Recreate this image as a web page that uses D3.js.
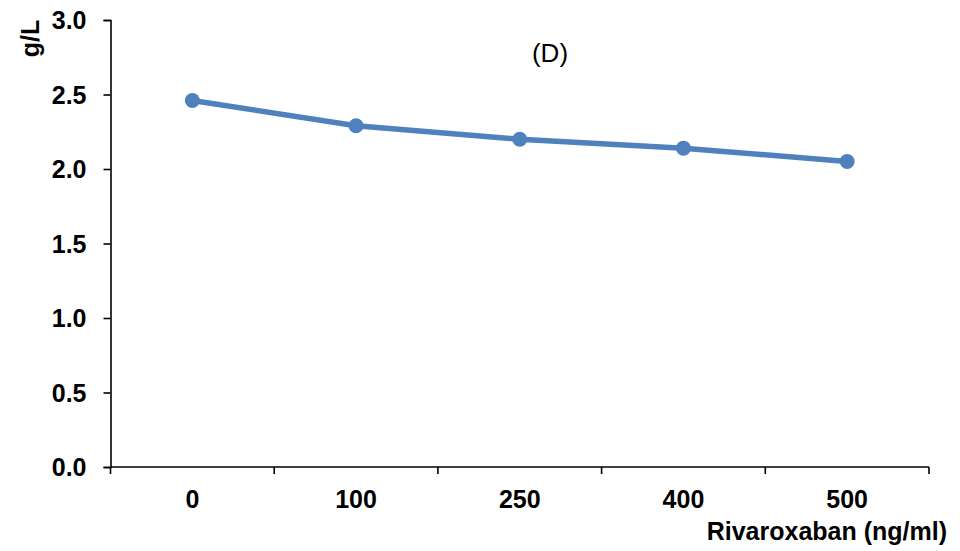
<!DOCTYPE html>
<html>
<head>
<meta charset="utf-8">
<script src="https://cdn.jsdelivr.net/npm/d3@7"></script>
<style>
  html, body { margin: 0; padding: 0; background: #fff; }
  svg { display: block; }
  text { font-family: "Liberation Sans", Arial, sans-serif; fill: #000; }
</style>
</head>
<body>
<svg id="chart" width="960" height="551"></svg>
<script>
// Rivaroxaban concentrations (ng/ml) and measured level (g/L)
const doses = ["0", "100", "250", "400", "500"];
const levels = [2.46, 2.29, 2.20, 2.14, 2.05];
const yTicks = [0, 0.5, 1.0, 1.5, 2.0, 2.5, 3.0];

const svg = d3.select("#chart");
const plotLeft = 110.5, plotRight = 929, plotTop = 20, plotBottom = 467;
const fontSize = "25px";

const x = d3.scaleBand().domain(doses).range([plotLeft, plotRight]);
const y = d3.scaleLinear().domain([0, 3]).range([plotBottom, plotTop]);

// Y axis
const yAxis = svg.append("g")
  .attr("transform", `translate(${plotLeft},0)`)
  .call(d3.axisLeft(y).tickValues(yTicks).tickFormat(d3.format(".1f")).tickSizeOuter(0).tickSize(7));
yAxis.select(".domain").attr("stroke", "#000").attr("stroke-width", 1.6);
yAxis.selectAll(".tick line").attr("stroke", "#000").attr("stroke-width", 1.6);
yAxis.selectAll(".tick text")
  .attr("x", -24).attr("dy", "0.34em")
  .style("font-size", fontSize).style("font-weight", "bold")
  .style("font-family", "'Liberation Sans', Arial, sans-serif")
  .attr("fill", "#000")
  .attr("text-anchor", "end");

// X axis with tick marks at band edges
const xg = svg.append("g").attr("transform", `translate(0,${plotBottom})`);
xg.append("line").attr("x1", plotLeft).attr("x2", plotRight).attr("y1", 0).attr("y2", 0)
  .attr("stroke", "#000").attr("stroke-width", 1.6);
const edges = doses.map(d => x(d)).concat([x(doses[doses.length - 1]) + x.bandwidth()]);
xg.selectAll("line.edge").data(edges).enter().append("line")
  .attr("class", "edge")
  .attr("x1", d => d).attr("x2", d => d).attr("y1", 0).attr("y2", 7)
  .attr("stroke", "#000").attr("stroke-width", 1.6);
xg.selectAll("text.lab").data(doses).enter().append("text")
  .attr("class", "lab")
  .attr("x", d => x(d) + x.bandwidth() / 2)
  .attr("y", 41)
  .attr("text-anchor", "middle")
  .style("font-size", fontSize).style("font-weight", "bold")
  .text(d => d);

// Axis titles
svg.append("text")
  .attr("x", 947).attr("y", 540)
  .attr("text-anchor", "end")
  .style("font-size", fontSize).style("font-weight", "bold")
  .text("Rivaroxaban (ng/ml)");
svg.append("text")
  .attr("transform", "translate(39,38.5) rotate(-90)")
  .attr("text-anchor", "middle")
  .style("font-size", fontSize).style("font-weight", "bold")
  .text("g/L");

// Panel label
svg.append("text")
  .attr("x", 550).attr("y", 62)
  .attr("text-anchor", "middle")
  .style("font-size", "26px")
  .text("(D)");

// Series
const cx = d => x(d) + x.bandwidth() / 2;
const line = d3.line().x((d, i) => cx(doses[i])).y(d => y(d));
svg.append("path").datum(levels)
  .attr("d", line)
  .attr("fill", "none")
  .attr("stroke", "#4F81BD")
  .attr("stroke-width", 5.5)
  .attr("stroke-linejoin", "round");
svg.selectAll("circle.pt").data(levels).enter().append("circle")
  .attr("class", "pt")
  .attr("cx", (d, i) => cx(doses[i]))
  .attr("cy", d => y(d))
  .attr("r", 7.5)
  .attr("fill", "#4F81BD");
</script>
</body>
</html>
